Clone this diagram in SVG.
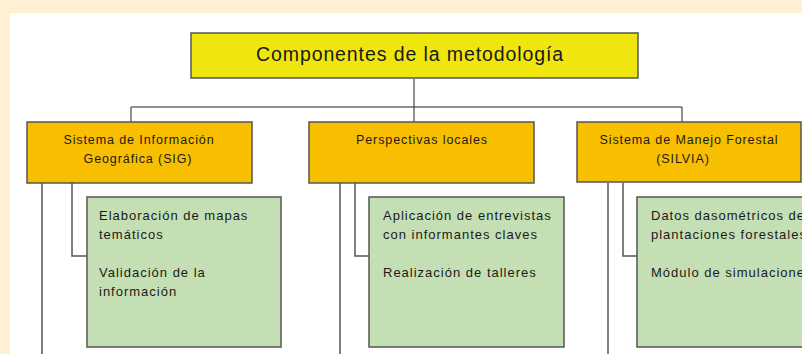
<svg xmlns="http://www.w3.org/2000/svg" width="802" height="354" viewBox="0 0 802 354">
<style>
.box{stroke:#555;stroke-width:1.5}
.title{fill:#F0E60E}
.head{fill:#F8BF00}
.item{fill:#C5DFB4}
text{font-family:"Liberation Sans",Arial,sans-serif;fill:#1a1a1a}
.t1{font-size:19.5px;letter-spacing:0.9px}
.t2{font-size:12.5px;letter-spacing:0.9px}
.t3{font-size:13px;letter-spacing:1px}
.c{fill:none;stroke:#222;stroke-width:1}
.c2{fill:none;stroke:#555;stroke-width:1.5}
</style>
<rect x="0" y="0" width="802" height="354" fill="#FFF0D4"/>
<rect x="10" y="13" width="792" height="341" fill="#FFFFFF"/>
<g id="connectors">
<path class="c" d="M414 79V107M131 107H682M131 107V122M414 107V122M682 107V122"/>
<path class="c2" d="M42 183V354M72 183V256H87M340 183V354M355 183V256H369M608 183V354M623 183V256H637"/>
</g>
<g id="n-title">
<rect class="box title" x="191" y="33" width="447" height="45"/>
<text class="t1" x="410" y="61" text-anchor="middle">Componentes de la metodología</text>
</g>
<g id="n-sig">
<rect class="box head" x="27" y="122" width="225" height="61"/>
<text class="t2" x="139" y="143.5" text-anchor="middle">Sistema de Información</text>
<text class="t2" x="138" y="162.5" text-anchor="middle">Geográfica (SIG)</text>
</g>
<g id="n-pl">
<rect class="box head" x="309" y="122" width="225" height="61"/>
<text class="t2" x="422" y="143.5" text-anchor="middle">Perspectivas locales</text>
</g>
<g id="n-silvia">
<rect class="box head" x="577" y="122" width="224" height="60"/>
<text class="t2" x="689" y="143.5" text-anchor="middle">Sistema de Manejo Forestal</text>
<text class="t2" x="683" y="162.5" text-anchor="middle">(SILVIA)</text>
</g>
<g id="n-sig-items">
<rect class="box item" x="87" y="197" width="194" height="150"/>
<text class="t3" x="99" y="219.5">Elaboración de mapas</text>
<text class="t3" x="99" y="238.5">temáticos</text>
<text class="t3" x="99" y="277">Validación de la</text>
<text class="t3" x="99" y="295.5">información</text>
</g>
<g id="n-pl-items">
<rect class="box item" x="369" y="197" width="195" height="150"/>
<text class="t3" x="383" y="219.5">Aplicación de entrevistas</text>
<text class="t3" x="383" y="238.5">con informantes claves</text>
<text class="t3" x="383" y="277">Realización de talleres</text>
</g>
<g id="n-silvia-items">
<rect class="box item" x="637" y="197" width="200" height="150"/>
<text class="t3" x="651" y="219.5">Datos dasométricos de</text>
<text class="t3" x="651" y="238.5">plantaciones forestales</text>
<text class="t3" x="651" y="277">Módulo de simulaciones</text>
</g>
</svg>
